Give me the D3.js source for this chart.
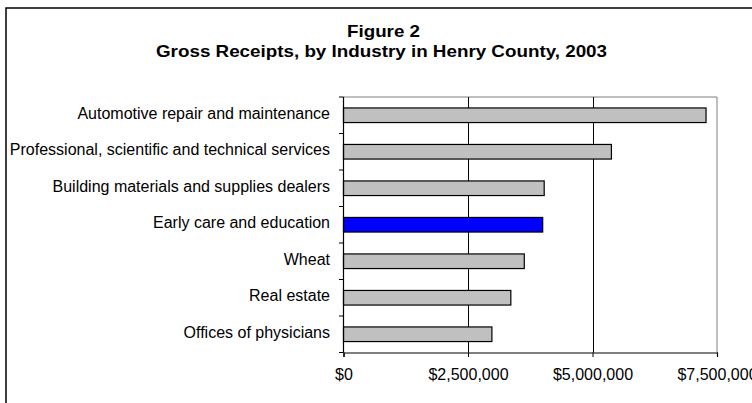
<!DOCTYPE html>
<html>
<head>
<meta charset="utf-8">
<script src="https://cdn.jsdelivr.net/npm/d3@7"></script>
<style>
  html, body { margin: 0; padding: 0; background: #fff; }
  svg { display: block; }
  text { font-family: "Liberation Sans", Arial, sans-serif; fill: #000; }
</style>
</head>
<body>
<svg id="chart" width="752" height="403"></svg>
<script>
const titleLines = ["Figure 2", "Gross Receipts, by Industry in Henry County, 2003"];
const categories = [
  "Automotive repair and maintenance",
  "Professional, scientific and technical services",
  "Building materials and supplies dealers",
  "Early care and education",
  "Wheat",
  "Real estate",
  "Offices of physicians"
];
const values = [7280000, 5380000, 4030000, 4000000, 3630000, 3360000, 2980000];
const highlight = ["Early care and education"];
const xTicks = [0, 2500000, 5000000, 7500000];
const xTickLabels = ["$0", "$2,500,000", "$5,000,000", "$7,500,000"];

const svg = d3.select("#chart");
const m = { left: 343.5, right: 717, top: 97, bottom: 352.5 };

// outer frame
svg.append("rect").attr("x", 6).attr("y", 8).attr("width", 760).attr("height", 420)
  .attr("fill", "none").attr("stroke", "#000").attr("stroke-width", 1.5);

// titles
svg.append("text").attr("x", 383.5).attr("y", 37).attr("text-anchor", "middle")
  .attr("font-size", 16.5).attr("font-weight", "bold")
  .attr("textLength", 73).attr("lengthAdjust", "spacingAndGlyphs").text(titleLines[0]);
svg.append("text").attr("x", 381.5).attr("y", 57).attr("text-anchor", "middle")
  .attr("font-size", 16.5).attr("font-weight", "bold")
  .attr("textLength", 451).attr("lengthAdjust", "spacingAndGlyphs").text(titleLines[1]);

const x = d3.scaleLinear().domain([0, 7500000]).range([m.left, m.right]);
const y = d3.scaleBand().domain(categories).range([m.top, m.bottom]).paddingInner(0.6).paddingOuter(0.3);

// plot border (top/right grey)
svg.append("path")
  .attr("d", `M${m.left},${m.top}H${m.right}V${m.bottom}`)
  .attr("fill", "none").attr("stroke", "#808080").attr("stroke-width", 1);

// gridlines
svg.append("g").selectAll("line").data(xTicks.slice(1, -1)).join("line")
  .attr("x1", d => Math.round(x(d)) + 0.5).attr("x2", d => Math.round(x(d)) + 0.5)
  .attr("y1", m.top).attr("y2", m.bottom)
  .attr("stroke", "#000").attr("stroke-width", 1);

// bars
svg.append("g").selectAll("rect").data(categories).join("rect")
  .attr("x", x(0))
  .attr("y", d => y(d))
  .attr("width", (d, i) => x(values[i]) - x(0))
  .attr("height", y.bandwidth())
  .attr("fill", d => highlight.includes(d) ? "#0000ff" : "#c0c0c0")
  .attr("stroke", "#000").attr("stroke-width", 1.2);

// y axis line and ticks at band boundaries
const step = (m.bottom - m.top) / categories.length;
const yAxisG = svg.append("g");
yAxisG.append("line").attr("x1", m.left).attr("x2", m.left).attr("y1", m.top).attr("y2", m.bottom)
  .attr("stroke", "#000").attr("stroke-width", 1.2);
yAxisG.selectAll("line.tk").data(d3.range(categories.length + 1)).join("line").attr("class", "tk")
  .attr("x1", m.left - 4.5).attr("x2", m.left)
  .attr("y1", i => m.top + i * step).attr("y2", i => m.top + i * step)
  .attr("stroke", "#000").attr("stroke-width", 1);
yAxisG.selectAll("text").data(categories).join("text")
  .attr("x", 330).attr("y", d => y(d) + y.bandwidth() / 2 + 3.5)
  .attr("text-anchor", "end").attr("font-size", 16).text(d => d);

// x axis
const xAxis = d3.axisBottom(x).tickValues(xTicks).tickSize(4.5).tickPadding(0)
  .tickFormat((d, i) => xTickLabels[i]);
const xg = svg.append("g").attr("transform", `translate(0,${m.bottom})`).call(xAxis);
xg.select(".domain").attr("stroke", "#000").attr("stroke-width", 1.2);
xg.selectAll(".tick line").attr("stroke", "#000");
xg.selectAll(".tick text").attr("dy", null).attr("y", 380 - m.bottom)
  .attr("font-size", 16).attr("font-family", "Liberation Sans, Arial, sans-serif").attr("fill", "#000");
</script>
</body>
</html>
